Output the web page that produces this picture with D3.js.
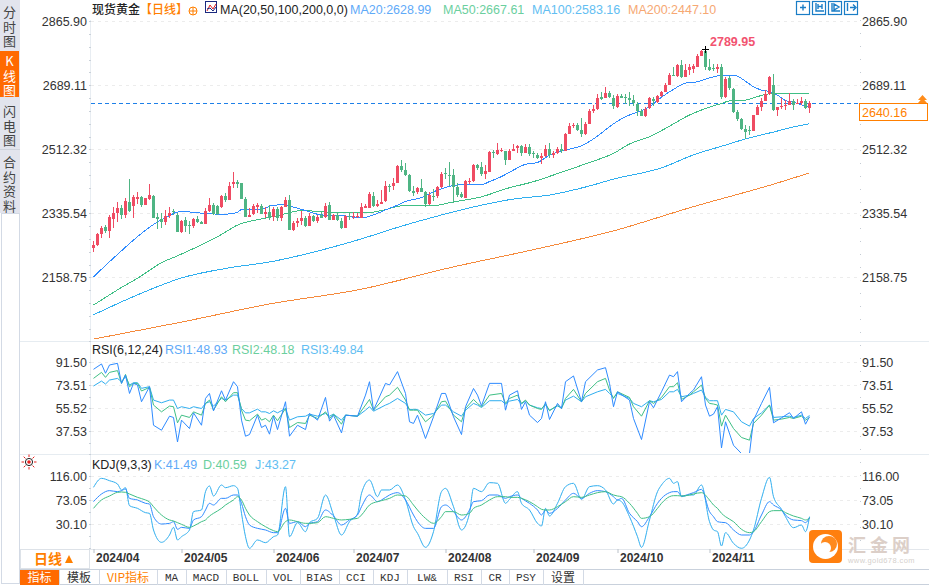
<!DOCTYPE html>
<html lang="zh">
<head>
<meta charset="utf-8">
<title>现货黄金 日线</title>
<script src="https://cdn.jsdelivr.net/npm/d3@7/dist/d3.min.js"></script>
<style>
html,body{margin:0;padding:0;background:#fff;overflow:hidden}
svg{display:block;font-family:"Liberation Sans",Arial,"Noto Sans CJK SC",sans-serif}
.cjk{font-family:"Noto Sans CJK SC","Liberation Sans",sans-serif}
.mono{font-family:"Liberation Mono","DejaVu Sans Mono",monospace}
.vert{writing-mode:vertical-rl;text-orientation:upright}
</style>
</head>
<body>
<svg id="chart" width="929" height="585" viewBox="0 0 929 585"></svg>
<script>
/* ---------- data ---------- */
const monthLabels = ["2024/04","2024/05","2024/06","2024/07","2024/08","2024/09","2024/10","2024/11"];
const monthBars = [0,22,45,65,88,110,131,154];

const opens = [
2241,2248,2278,2298,2287,2320,2336,2351,2331,2368,
2357,2376,2381,2359,2374,2383,2326,2320,2311,2329,
2342,2331,2283,2317,2302,2301,2320,2312,2307,2343,
2358,2355,2353,2384,2373,2417,2422,2420,2375,2326,
2333,2352,2357,2334,2339,2324,2347,2323,2354,2372,
2289,2310,2313,2323,2300,2329,2315,2331,2326,2359,
2317,2331,2315,2295,2328,2326,2326,2323,2350,2351,
2383,2355,2361,2370,2411,2411,2420,2466,2455,2441,
2396,2394,2405,2394,2360,2383,2382,2408,2446,2441,
2441,2409,2389,2379,2423,2425,2469,2463,2443,2451,
2506,2498,2508,2508,2484,2508,2517,2521,2502,2519,
2501,2497,2488,2494,2513,2497,2501,2513,2509,2555,
2577,2579,2565,2555,2583,2618,2624,2656,2655,2667,
2655,2629,2659,2657,2653,2648,2638,2619,2604,2627,
2652,2642,2660,2671,2690,2718,2715,2745,2713,2731,
2733,2741,2771,2784,2739,2736,2735,2739,2656,2709,
2679,2615,2596,2568,2566,2564,2607,2630,2646,2664,
2690,2621,2631,2632,2636,2647,2639,2639,2645,2627];
const closes = [
2248,2277,2296,2287,2326,2336,2351,2331,2370,2342,
2381,2381,2359,2377,2386,2323,2319,2312,2328,2337,
2339,2285,2315,2301,2300,2320,2311,2306,2342,2358,
2333,2333,2382,2371,2411,2421,2417,2375,2326,2331,
2357,2358,2334,2339,2324,2347,2323,2353,2372,2289,
2310,2315,2323,2300,2328,2315,2326,2323,2356,2317,
2331,2317,2295,2327,2327,2329,2328,2353,2356,2389,
2356,2360,2368,2411,2409,2419,2467,2455,2440,2396,
2391,2405,2394,2360,2387,2382,2408,2444,2444,2439,
2409,2386,2380,2425,2426,2469,2460,2443,2452,2505,
2504,2510,2510,2482,2508,2513,2521,2502,2520,2500,
2498,2488,2494,2513,2497,2502,2513,2508,2554,2576,
2579,2567,2554,2581,2617,2624,2653,2651,2668,2657,
2633,2660,2655,2653,2648,2640,2619,2604,2625,2653,
2647,2660,2671,2690,2717,2717,2745,2713,2731,2741,
2743,2771,2785,2741,2731,2734,2741,2656,2706,2682,
2615,2597,2569,2560,2562,2606,2628,2646,2664,2713,
2621,2628,2633,2635,2645,2635,2641,2646,2626,2640.16];
const highs = [
2259,2281,2301,2303,2331,2353,2366,2358,2377,2430,
2386,2395,2384,2379,2417,2386,2335,2335,2345,2352,
2347,2337,2317,2324,2315,2322,2328,2314,2351,2379,
2363,2358,2386,2391,2423,2449,2428,2420,2381,2349,
2360,2363,2360,2354,2358,2354,2354,2356,2380,2386,
2315,2322,2343,2328,2335,2331,2331,2339,2365,2367,
2334,2337,2322,2331,2339,2340,2335,2365,2361,2393,
2393,2372,2400,2424,2416,2432,2470,2483,2474,2444,
2411,2407,2430,2398,2393,2402,2411,2450,2460,2477,
2457,2418,2395,2427,2432,2471,2473,2476,2469,2508,
2510,2530,2517,2508,2513,2526,2524,2524,2526,2526,
2508,2501,2503,2524,2529,2508,2520,2526,2558,2586,
2586,2585,2598,2587,2625,2635,2664,2670,2684,2673,
2662,2664,2664,2664,2670,2662,2644,2625,2630,2656,
2658,2662,2673,2696,2724,2739,2747,2759,2747,2748,
2747,2776,2788,2789.95,2761,2747,2748,2748,2711,2715,
2683,2621,2598,2579,2578,2608,2634,2653,2676,2715,
2720,2630,2653,2648,2667,2650,2650,2658,2652,2645];
const lows = [
2230,2246,2266,2280,2268,2294,2312,2320,2322,2338,
2323,2360,2354,2358,2371,2322,2292,2294,2303,2323,
2331,2285,2280,2285,2277,2294,2308,2305,2305,2340,
2331,2331,2351,2368,2373,2406,2406,2375,2326,2324,
2331,2335,2333,2322,2317,2314,2315,2315,2352,2289,
2287,2297,2302,2297,2300,2312,2308,2323,2323,2317,
2317,2314,2291,2295,2317,2319,2322,2323,2349,2349,
2352,2352,2360,2368,2393,2400,2418,2450,2439,2394,
2383,2389,2393,2354,2358,2370,2379,2406,2430,2411,
2363,2380,2377,2379,2417,2423,2455,2439,2430,2450,
2487,2497,2506,2469,2482,2508,2502,2495,2501,2495,
2489,2485,2473,2492,2489,2489,2498,2503,2508,2554,
2572,2563,2546,2552,2583,2612,2622,2648,2653,2653,
2625,2627,2653,2638,2633,2633,2605,2604,2601,2625,
2633,2639,2658,2670,2689,2715,2713,2708,2711,2717,
2722,2739,2770,2731,2729,2729,2722,2652,2653,2676,
2613,2591,2567,2540,2552,2562,2607,2619,2645,2662,
2619,2604,2625,2621,2635,2621,2637,2635,2623,2613];

const ma20Bars = [0,6,12,16,19,21,23,25,28,33,36,37,42,45,48,49,53,57,62,67,70,73,76,78,82,85,88,91,92,97,99,102,105,108,111,114,117,119,122,125,128,131,134,137,139,142,145,148,151,153,156,158,160,162,165,167,169,171,173,175,177,179];
const ma20Values = [2160,2222,2280,2312,2329,2339,2340,2338,2335,2333,2338,2346,2347,2358,2359,2356,2343,2331,2329,2323,2331,2345,2358,2368,2379,2395,2407,2414,2415,2415,2423,2437,2455,2471,2476,2496,2508,2513,2522,2541,2566,2590,2607,2619,2630,2656,2678,2695,2699,2706,2715,2717,2717,2708,2685,2676,2672,2662,2647,2642,2635,2628.99];
const ma50Bars = [0,6,12,17,21,32,36,42,46,52,61,69,72,77,86,89,97,103,110,117,124,130,134,139,143,149,153,157,159,163,166,170,171,179];
const ma50Values = [2082,2124,2163,2199,2218,2277,2303,2320,2329,2343,2338,2338,2343,2356,2358,2365,2381,2403,2423,2449,2476,2501,2527,2547,2570,2607,2625,2639,2646,2648,2658,2667,2667,2667.61];
const ma100Bars = [0,12,22,34,44,57,67,77,85,95,105,114,124,130,142,150,158,163,170,175,179];
const ma100Values = [2055,2115,2157,2185,2201,2234,2265,2300,2325,2353,2375,2386,2411,2430,2461,2497,2524,2541,2560,2574,2583.16];
const ma200Bars = [0,22,44,67,89,112,130,150,170,179];
const ma200Values = [1988,2035,2085,2126,2185,2240,2287,2354,2416,2447.10];

const rsiBars = [0,2,3,4,6,7,8,9,10,11,12,14,15,17,19,20,21,22,24,25,27,28,29,30,32,33,35,36,37,38,39,41,42,43,44,45,46,48,49,51,53,54,
56,58,59,60,62,63,66,68,69,70,73,74,76,78,79,80,81,83,85,87,88,90,92,93,95,96,97,99,102,103,104,106,107,108,109,111,112,113,114,116,117,118,120,122,123,126,128,129,130,131,
134,135,137,139,140,142,144,145,146,147,149,150,152,153,154,155,156,157,158,160,162,164,165,167,169,170,172,174,175,177,178,179];
const rsi1 = [86,90.2,82.9,89.4,90.7,75,81.5,67.1,75,73.7,60.6,72.4,42.2,38.3,49.3,48.3,29.1,46.2,39.6,51.9,42.2,63.2,67.1,53.5,69.2,61.9,76.3,72.4,46.2,33.6,34.9,50.1,40.4,42.2,35.2,49.3,38.8,60.6,33.6,42.2,38.8,51.4,
46.2,64,45.4,50.1,36.2,50.1,49.3,65.8,76.3,54,75,73.7,84.2,67.1,44.9,43.6,50.1,31.8,48.8,67.1,67.1,48.8,34.9,56.7,71,65.8,57.4,75,75,54,65.8,69.2,54.6,60.6,50.1,44.3,47.5,60.6,46.7,59.3,55.3,76.3,80.8,60.6,76.3,85.5,87.3,75,56.7,68.4,
61.9,47.5,31,60.6,55.9,68.4,81.5,80.2,84.2,60.6,67.1,69.8,80.2,58,49.3,50.9,56.7,24.4,44.9,26.5,20,20,46.2,59.3,71.9,44.1,48,52,47.5,52.7,43,48.93];
const rsi2 = [78.9,83.6,79.7,83.6,85,75,82,72.4,75,75,69,71.9,58,52.7,57.2,56.7,44.1,50.1,48.3,52.7,50.1,59.3,61.9,54,64.5,60.6,67.7,67.7,54,46.2,45.7,50.9,46.2,47.5,44.9,50.1,45.7,55.3,40.4,44.3,43.6,50.1,
47.5,52.7,47.5,50.9,43,50.1,49.3,58,62.4,54,64.5,65.8,71.9,61.9,54,54,54,44.9,50.1,60.6,61.1,50.1,44.9,55.3,62.4,59.3,56.7,65.8,67.1,59.3,63.2,65.8,59.3,61.9,58,55.3,54.6,59.3,53.5,58,55.3,63.2,70.3,60.6,67.1,76.3,78.9,69.8,63.2,68.4,
64,56.7,49.3,61.4,59.3,64,72.4,72.4,75.5,62.4,65.8,68.4,73.7,63.2,59.3,58.8,58,41.5,50.1,39.6,32.6,30.5,43.6,50.1,58,46.2,47,48.3,47.5,49.3,46.2,48.18];
const rsi3 = [72.9,76.8,74.5,77.6,78.9,76.3,80.2,73.7,75.5,75.5,71.1,72.4,61.9,59.8,61.9,61.9,55.3,56.7,55.3,56.7,55.3,59.3,60.6,57.2,63.2,61.9,65.8,65.8,55.3,51.9,51.9,54.8,52.7,52.7,51.4,53.5,51.9,55.3,46.2,48.8,49.3,50.9,
49.3,51.4,49.3,50.9,46.2,50.1,49.3,54,56.7,53.2,58,59.3,63.2,59.3,54.6,54.6,54.6,50.1,51.4,58,58,52.7,49.3,54,59.3,58,56.1,61.4,61.4,58.8,61.1,62.4,58.8,61.4,58,55.9,55.3,58,54,57.2,55.9,61.9,65,60.6,64.5,68.4,70.3,67.1,64,67.1,
63.2,59.3,56.7,61.4,60.6,62.4,68.4,68.4,70.3,64.5,65.8,67.1,69.8,64,61.4,61.4,61.4,50.1,54.6,52.7,44.9,41.5,47.5,51.9,58,48.3,48.8,49.3,48.3,50.1,47.5,49.84];

const kdjBars = [0,2,4,6,7,8,9,11,13,14,15,17,19,20,21,22,24,25,27,28,29,30,32,33,35,36,37,38,39,41,43,45,46,48,49,51,53,54,
56,58,60,62,64,66,67,69,71,72,74,76,78,80,81,83,85,87,88,90,92,94,95,97,99,101,103,104,106,107,109,111,112,113,114,116,118,120,122,124,126,128,130,131,
132,134,136,137,139,141,142,144,145,146,147,149,150,152,154,155,156,157,158,160,162,164,165,167,169,170,172,173,175,177,178,179];
const kdjK = [70.1,83.8,89.8,88,89.8,92.7,76,73.1,67.1,65.9,43.2,30.1,31.3,34.3,20.6,24.1,22.3,37.3,43.2,55.2,67.1,64.1,76,76,82,82,67.1,43.2,28.3,22.3,19.4,14.6,14.6,58.1,31.3,34.3,25.3,31.3,
34.3,55.2,44.4,28.3,37.3,46.2,61.1,82,70.1,73.1,82,86.2,73.1,46.2,34.3,22.3,22.3,61.1,64.1,52.2,37.3,55.2,70.1,71.9,82,82,76,79,82,76,67.1,55.2,46.2,55.2,49.2,58.1,73.1,85,76,85,89.8,88,79,73.1,
76,49.2,34.3,25.3,43.2,67.1,76,86.2,88,88,80.2,83.8,86.2,92.1,52.2,43.2,34.3,33.1,32.5,19.4,10.4,10.4,16.4,46.2,70.1,64.1,55.2,46.2,37.3,36.1,32.5,41.49];
const kdjD = [58.1,73.1,80.2,86.8,87.4,86.8,83.8,77.8,73.1,69.5,61.1,46.2,37.3,35.5,32.5,29.5,24.1,26.5,34.3,37.3,44.4,49.2,58.1,64.1,73.1,79,73.1,58.1,46.2,34.3,25.3,18.2,16.4,34.3,37.3,34.3,31.3,31.3,
32.5,43.2,40.2,37.3,38.5,40.2,46.2,64.1,70.1,71.9,76,82,80.2,64.1,55.2,40.2,31.3,43.2,52.2,52.2,46.2,49.2,58.1,64.1,73.1,79,79,77.8,77.8,76,70.1,61.1,56.4,55.2,55.2,61.1,70.1,79,77.8,82,86.2,88,82,80.2,
79,67.1,49.2,40.2,43.2,58.1,67.1,79,80.8,80.8,80.2,82,83.8,86.2,73.1,64.1,58.1,49.2,43.2,34.3,20.6,14.6,16.4,34.3,52.2,54,54,50.4,44.4,40.2,37.3,40.59];
const kdjJ = [95.7,111.8,107.6,101.7,91,95.1,62.9,58.1,50.4,49.2,19.4,-2.7,10.4,24.1,1.5,7.4,19.4,52.2,55.2,88,98.1,80.2,99.9,95.1,98.7,93.9,49.2,7.4,-13.4,1.5,-3.3,7.4,10.4,96.9,7.4,32.5,16.4,32.5,
40.2,82,46.2,10.4,34.3,48,85,108.8,79,91,91,99.9,73.1,25.3,13.4,-11.7,16.4,88,93.9,61.1,19.4,49.2,93.9,88,104.1,102.9,67.1,74.2,88,67.1,55.2,31.3,26.5,58.1,44.4,67.1,96.9,102.9,74.2,96.9,98.7,91,65.9,73.1,
70.1,43.2,7.4,-11.7,37.3,88,99.9,111.8,102.9,105.9,79,82,82,99.9,34.3,19.4,16.4,-9.3,14.6,-4.5,-13.4,1.5,19.4,76,113.6,79,56.4,43.2,23.5,28.3,16.4,43.27];

const priceTicks = [2865.90,2689.11,2512.32,2335.54,2158.75];
const rsiTicks = [91.50,73.51,55.52,37.53];
const kdjTicks = [116.00,73.05,30.10];
const lastPrice = 2640.16;
const peakPrice = 2789.95;
const tabNames = ["指标","模板","VIP指标","MA","MACD","BOLL","VOL","BIAS","CCI","KDJ","LW&","RSI","CR","PSY","设置"];

/* ---------- palette ---------- */
const UP="#EF4C63", DOWN="#4FB584";
const C1="#2E8BFF", C2="#3FBF85", C3="#2FAEEF", C4="#F58A3C", ORANGE="#FF7F00";

/* ---------- scales ---------- */
const svg = d3.select("#chart");
const x = d3.scaleLinear().domain([0,179]).range([93.5,809.5]);
const yMain = d3.scaleLinear().domain([2158.75,2865.90]).range([277.3,21.3]);
const yRsi = d3.scaleLinear().domain([37.53,91.50]).range([431.2,362.3]);
const yKdj = d3.scaleLinear().domain([30.10,116]).range([524,476]);

/* ---------- clip regions ---------- */
const defs = svg.append("defs");
function clip(id,y0,y1){defs.append("clipPath").attr("id",id).append("rect").attr("x",91).attr("y",y0).attr("width",770).attr("height",y1-y0);}
clip("cMain",15,341); clip("cRsi",342,453); clip("cKdj",455,549);

/* ---------- left strip ---------- */
const side = svg.append("g").attr("class","cjk");
side.append("rect").attr("x",0).attr("y",0).attr("width",20).attr("height",213).attr("fill","#E2E4ED");
side.append("rect").attr("x",0).attr("y",51).attr("width",19).attr("height",46).attr("fill","#FF6A00");
side.append("line").attr("x1",0).attr("x2",20).attr("y1",149.5).attr("y2",149.5).attr("stroke","#cfd3dc");
side.append("rect").attr("x",1.5).attr("y",213.5).attr("width",18).attr("height",370).attr("fill","#fff").attr("stroke","#D3DAE5");
const sideTabs = [["分时图",6,"#444"],["K线图",55,"#fff"],["闪电图",105,"#444"],["合约资料",156,"#444"]];
side.selectAll("text").data(sideTabs).join("text").attr("class","vert cjk")
  .attr("x",9.5).attr("y",d=>d[1]).attr("font-size",13).attr("letter-spacing",1.4)
  .attr("fill",d=>d[2]).text(d=>d[0]);

/* ---------- panel frame ---------- */
const frame = svg.append("g");
[341.5,454.5].forEach(y=>frame.append("line").attr("x1",20).attr("x2",929).attr("y1",y).attr("y2",y).attr("stroke","#E6ECF1").attr("stroke-width",1));
frame.append("line").attr("x1",20).attr("x2",929).attr("y1",549.5).attr("y2",549.5).attr("stroke","#E3E7EC");
frame.append("line").attr("x1",90.5).attr("x2",90.5).attr("y1",20).attr("y2",549).attr("stroke","#E8EDF2");
frame.append("line").attr("x1",860.5).attr("x2",860.5).attr("y1",20).attr("y2",549).attr("stroke","#C4CBD3").attr("stroke-dasharray","1 12");

/* ---------- grid and axes ---------- */
function gridAndAxes(scale,ticks,step){
  const g = svg.append("g");
  g.selectAll("line.gr").data(ticks).join("line").attr("class","gr")
    .attr("x1",91).attr("x2",858)
    .attr("y1",d=>Math.round(scale(d))+.5).attr("y2",d=>Math.round(scale(d))+.5)
    .attr("stroke","#ECECEC").attr("stroke-dasharray","3 4");
  const left = g.append("g").attr("transform","translate(90,0)")
    .call(d3.axisLeft(scale).tickValues(ticks).tickSize(0).tickPadding(3).tickFormat(d3.format(".2f")));
  const right = g.append("g").attr("transform","translate(862,0)")
    .call(d3.axisRight(scale).tickValues(ticks).tickSize(0).tickPadding(0).tickFormat(d3.format(".2f")));
  [left,right].forEach(a=>{
    a.select(".domain").remove();
    a.selectAll("text").attr("fill","#333").attr("font-size",12.5).attr("font-family","'Liberation Sans',Arial,sans-serif");
  });
  const n=Math.round((step.y1-step.y0)/step.d);
  const minor=d3.range(n+1).map(k=>scale.invert(step.y0+k*step.d));
  g.selectAll("line.mi").data(minor).join("line").attr("class","mi")
    .attr("x1",89).attr("x2",91).attr("y1",d=>Math.round(scale(d))+.5).attr("y2",d=>Math.round(scale(d))+.5)
    .attr("stroke","#C9D0D8");
}
gridAndAxes(yMain,priceTicks,{y0:21.3,y1:341,d:12.8});
gridAndAxes(yRsi,rsiTicks,{y0:362.3,y1:453,d:11.5});
gridAndAxes(yKdj,kdjTicks,{y0:476,y1:549,d:12});

/* ---------- last price line ---------- */
svg.append("line").attr("x1",91).attr("x2",858)
  .attr("y1",Math.round(yMain(lastPrice))+.5).attr("y2",Math.round(yMain(lastPrice))+.5)
  .attr("stroke","#1E80E8").attr("stroke-dasharray","4 3");

/* ---------- moving averages ---------- */
const lineOf = (yS)=>d3.line().x(d=>x(d[0])).y(d=>yS(d[1]));
const maG = svg.append("g").attr("clip-path","url(#cMain)").attr("fill","none").attr("stroke-width",1).attr("shape-rendering","crispEdges");
[[ma200Bars,ma200Values,C4],[ma100Bars,ma100Values,C3],[ma50Bars,ma50Values,C2],[ma20Bars,ma20Values,C1]].forEach(s=>{
  maG.append("path").attr("d",lineOf(yMain).curve(d3.curveMonotoneX)(d3.zip(s[0],s[1]))).attr("stroke",s[2]);
});

/* ---------- candles ---------- */
const bars = d3.range(opens.length).map(i=>({i,o:opens[i],c:closes[i],h:highs[i],l:lows[i]}));
const cg = svg.append("g").attr("clip-path","url(#cMain)").attr("shape-rendering","crispEdges");
cg.selectAll("rect.w").data(bars).join("rect").attr("class","w")
  .attr("x",d=>x(d.i)-.5).attr("width",1)
  .attr("y",d=>yMain(d.h)).attr("height",d=>yMain(d.l)-yMain(d.h))
  .attr("fill",d=>d.c>=d.o?UP:DOWN);
cg.selectAll("rect.b").data(bars).join("rect").attr("class","b")
  .attr("x",d=>x(d.i)-1.5).attr("width",3)
  .attr("y",d=>yMain(Math.max(d.o,d.c))).attr("height",d=>Math.max(1,Math.abs(yMain(d.o)-yMain(d.c))))
  .attr("fill",d=>d.c>=d.o?UP:DOWN);

/* ---------- peak marker ---------- */
const peakIdx = highs.indexOf(peakPrice);
const px = x(peakIdx), py = yMain(peakPrice);
svg.append("path").attr("d",`M${px-3.5} ${py+.5}H${px+3.5}M${px} ${py-3}V${py+4}`).attr("stroke","#000").attr("fill","none").attr("shape-rendering","crispEdges");
svg.append("text").attr("x",px+4.5).attr("y",py-3).attr("font-size",12.5).attr("font-weight",700).attr("fill","#F25370").text(peakPrice.toFixed(2));

/* ---------- oscillators ---------- */
const rg = svg.append("g").attr("clip-path","url(#cRsi)").attr("fill","none").attr("stroke-width",1);
[[rsi3,C3],[rsi2,C2],[rsi1,C1]].forEach(s=>rg.append("path").attr("d",lineOf(yRsi)(d3.zip(rsiBars,s[0]))).attr("stroke",s[1]));
const kg = svg.append("g").attr("clip-path","url(#cKdj)").attr("fill","none").attr("stroke-width",1);
[[kdjJ,C3],[kdjK,C1],[kdjD,C2]].forEach(s=>kg.append("path").attr("d",lineOf(yKdj).curve(d3.curveMonotoneX)(d3.zip(kdjBars,s[0]))).attr("stroke",s[1]));

/* ---------- header texts ---------- */
function label(x0,y,t,fill,size,weight,cls){
  const n=svg.append("text").attr("x",x0).attr("y",y).attr("fill",fill).attr("font-size",size||12.5).text(t);
  if(weight)n.attr("font-weight",weight); if(cls)n.attr("class",cls); return n;
}
label(92,14,"现货黄金","#222",12,500,"cjk");
label(140,14,"【日线】",ORANGE,12,500,"cjk");
svg.append("circle").attr("cx",193).attr("cy",11).attr("r",4).attr("fill","none").attr("stroke",ORANGE);
svg.append("path").attr("d","M189 11H197M193 7V15").attr("stroke",ORANGE).attr("fill","none");
svg.append("rect").attr("x",205.5).attr("y",1.5).attr("width",11).attr("height",11).attr("fill","#fff").attr("stroke","#1B2A80");
svg.append("path").attr("d","M207 11L210 5L213 9L216 4").attr("stroke","#E02020").attr("fill","none");
svg.append("path").attr("d","M207 9L210 8L213 11L216 7").attr("stroke","#1B2A80").attr("fill","none");
label(220,14,"MA(20,50,100,200,0,0)","#222");
label(350,14,"MA20:2628.99","#5FAAF8");
label(443,14,"MA50:2667.61","#6BCF9E");
label(532,14,"MA100:2583.16","#62BEF2");
label(628,14,"MA200:2447.10","#F6A873");

label(92,354,"RSI(6,12,24)","#222");
label(165,354,"RSI1:48.93","#5FAAF8");
label(232,354,"RSI2:48.18","#6BCF9E");
label(301,354,"RSI3:49.84","#62BEF2");
label(92,469,"KDJ(9,3,3)","#222");
label(154,469,"K:41.49","#5FAAF8");
label(203,469,"D:40.59","#6BCF9E");
label(255,469,"J:43.27","#62BEF2");

/* sun icon */
const sun = svg.append("g").attr("transform","translate(29,462)");
d3.range(8).forEach(k=>{const a=k*Math.PI/4;
  sun.append("line").attr("x1",5*Math.cos(a)).attr("y1",5*Math.sin(a)).attr("x2",7.5*Math.cos(a)).attr("y2",7.5*Math.sin(a)).attr("stroke","#E8201E");});
sun.append("circle").attr("r",3.6).attr("fill","#fff").attr("stroke","#222");
sun.append("circle").attr("r",1.8).attr("fill","#E8201E");

/* toolbar icons, top right */
const icons=svg.append("g").attr("fill","none").attr("stroke","#1A7DC6");
[[796.5,"M800 7.5H806M803 4.5V10.5"],[812.5,"M816 3V11H824M818 4V9M822 4V9M818 6.5H822"],[828.5,"M832 3V11H840M834 4V10L839 7Z"],[844.5,"M847.5 3V11M850 7.5H855M853 4.5L856 7.5L853 10.5"]].forEach(d=>{
  icons.append("rect").attr("x",d[0]).attr("y",1.5).attr("width",13).attr("height",13).attr("stroke-width",1.2);
  icons.append("path").attr("d",d[1]).attr("stroke-width",1.4);
});

/* ---------- last price box ---------- */
const yl = Math.round(yMain(lastPrice));
svg.append("path").attr("d",`M918 ${yl-3}L922.5 ${yl-8}L927 ${yl-3}ZM918 ${yl}L922.5 ${yl-5}L927 ${yl}Z`).attr("fill","#FF8C1A");
svg.append("rect").attr("x",859.5).attr("y",yl+.5).attr("width",68).attr("height",17).attr("fill","#fff").attr("stroke",ORANGE);
svg.append("text").attr("x",862).attr("y",yl+13.5).attr("font-size",12.5).attr("fill",ORANGE).text(lastPrice.toFixed(2));

/* ---------- date axis ---------- */
const dateAxis = svg.append("g").attr("transform","translate(0,549)")
  .call(d3.axisBottom(x).tickValues(monthBars).tickSize(4).tickPadding(0).tickFormat((d,i)=>monthLabels[i]));
dateAxis.select(".domain").remove();
dateAxis.selectAll("line").attr("stroke","#B9C0C8");
dateAxis.selectAll("text").attr("text-anchor","start").attr("x",2).attr("y",4).attr("font-size",12).attr("font-weight",700)
  .attr("fill","#333").attr("font-family","'Liberation Sans',Arial,sans-serif");

svg.append("rect").attr("x",20.5).attr("y",549.5).attr("width",69).attr("height",19).attr("fill","#fff").attr("stroke","#DDE2E8");
label(34,564,"日线",ORANGE,14,700,"cjk");
svg.append("path").attr("d","M65 563L69 555L73 563Z").attr("fill",ORANGE);

/* ---------- bottom tabs ---------- */
const tabEdges=[20,59,99,157,186,226,266,300,339,373,407,447,481,509,543,583];
const tabG=svg.append("g");
tabG.append("line").attr("x1",20).attr("x2",929).attr("y1",569.5).attr("y2",569.5).attr("stroke","#C9D1DC");
tabG.append("line").attr("x1",20).attr("x2",929).attr("y1",584.5).attr("y2",584.5).attr("stroke","#C9D1DC");
tabNames.forEach((t,i)=>{
  const a=tabEdges[i], b=tabEdges[i+1], on=i===0, vip=i===2, cjk=/[\u4e00-\u9fff]/.test(t)&&!vip;
  if(on)tabG.append("rect").attr("x",a).attr("y",570).attr("width",b-a).attr("height",15).attr("fill","#FF6A00");
  tabG.append("line").attr("x1",b+.5).attr("x2",b+.5).attr("y1",570).attr("y2",585).attr("stroke","#D3DAE5");
  tabG.append("text").attr("x",(a+b)/2).attr("y",vip||cjk?581.5:581).attr("text-anchor","middle")
    .attr("class",vip||cjk?"cjk":"mono").attr("font-size",vip||cjk?12:11)
    .attr("fill",on?"#fff":vip?ORANGE:"#333").text(t);
});

/* ---------- watermark ---------- */
const wm=svg.append("g");
wm.append("rect").attr("x",809).attr("y",530).attr("width",33).attr("height",33).attr("rx",4).attr("fill","#FF7F0E");
wm.append("circle").attr("cx",825.5).attr("cy",546.5).attr("r",12.5).attr("fill","#fff");
wm.append("circle").attr("cx",829).attr("cy",544).attr("r",8).attr("fill","#FF8A1E");
wm.append("circle").attr("cx",825).attr("cy",548).attr("r",6).attr("fill","#fff");
wm.append("text").attr("x",848).attr("y",552).attr("class","cjk").attr("font-size",18).attr("font-weight",700).attr("fill","#DCCFC8").attr("letter-spacing",4).text("汇金网");
wm.append("text").attr("x",848).attr("y",563).attr("font-size",7.5).attr("fill","#D5D0CC").attr("letter-spacing",.4).text("www.gold678.com");
</script>
</body>
</html>
